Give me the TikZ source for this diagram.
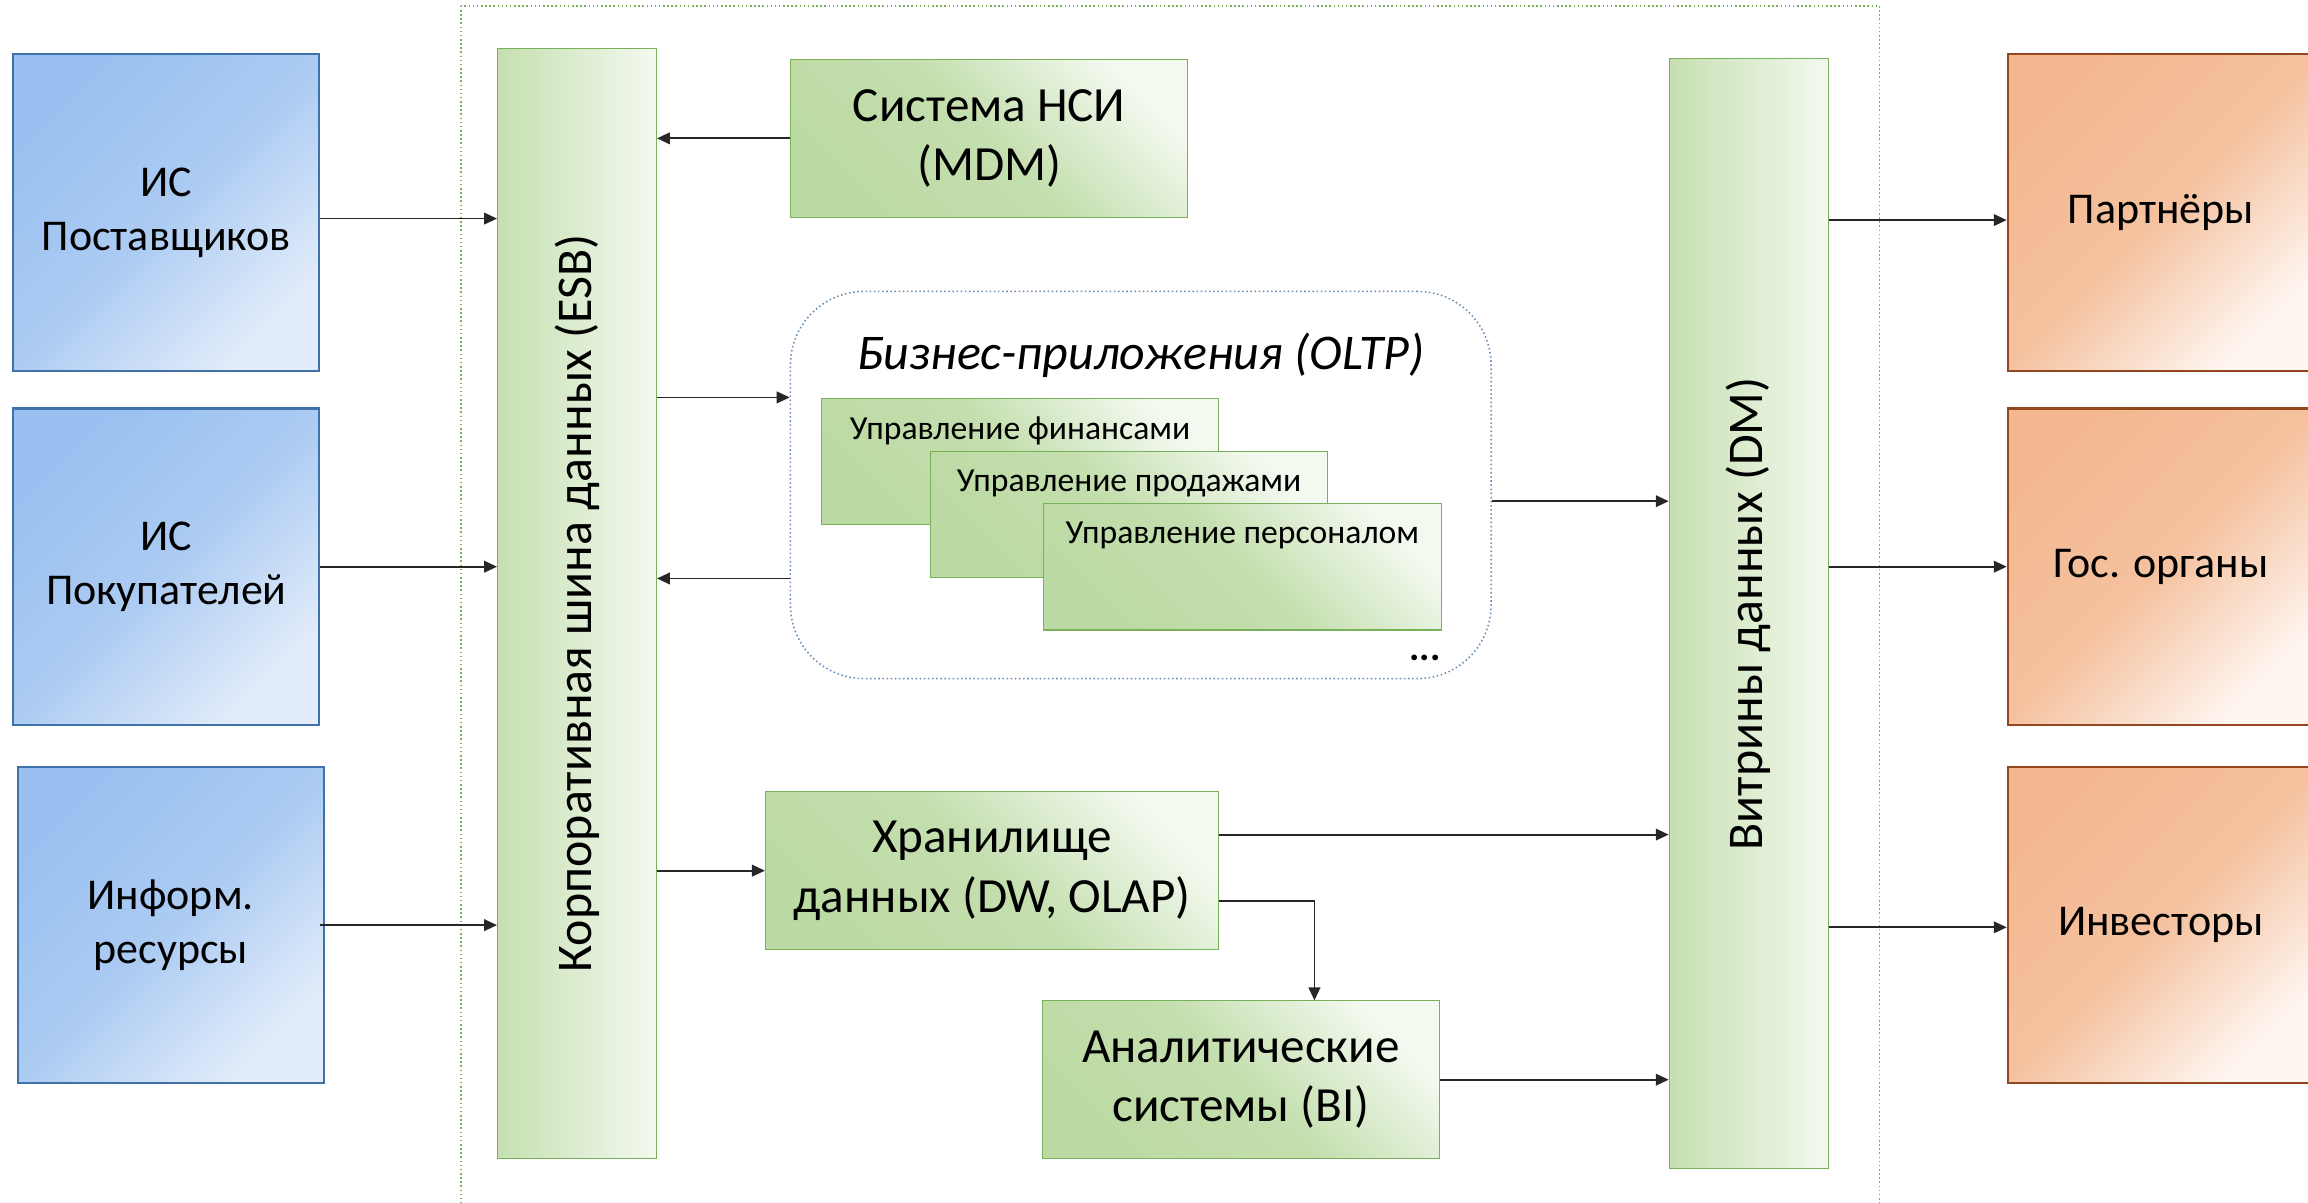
\documentclass[tikz,border=0pt]{standalone}
\usepackage{fontspec}
\setmainfont{Carlito}
\usetikzlibrary{arrows.meta,positioning}

\definecolor{srcdark}{HTML}{99C0F0}
\definecolor{srclight}{HTML}{E2ECFA}
\definecolor{srcline}{HTML}{3F72A8}
\definecolor{dstdark}{HTML}{F3B890}
\definecolor{dstlight}{HTML}{FEF6F1}
\definecolor{dstline}{HTML}{94461C}
\definecolor{grmid}{HTML}{BCDAA3}
\definecolor{grlight}{HTML}{F3F9EF}
\definecolor{grline}{HTML}{78B159}
\definecolor{oltpline}{HTML}{6A8DB8}

\tikzset{
    ext/.style={minimum width=4.16cm, minimum height=4.3cm, align=center,
        font=\fontsize{17}{21}\selectfont},
    src/.style={ext, draw=srcline, line width=0.8pt, top color=srcdark, bottom color=srclight,
        middle color=srcdark!75!srclight, shading angle=45},
    dst/.style={ext, draw=dstline, line width=0.8pt, top color=dstdark, bottom color=dstlight,
        middle color=dstdark!85!dstlight, shading angle=45},
    bar/.style={draw=grline, left color=grmid!85!white, middle color=grmid, right color=grlight,
        minimum width=2.16cm, minimum height=15.08cm},
    bartext/.style={rotate=90, font=\fontsize{19.3}{23}\selectfont},
    sys/.style={draw=grline, top color=grlight, bottom color=grmid, middle color=grmid!88!white,
        shading angle=-45, minimum width=5.4cm, minimum height=2.14cm, align=center,
        font=\fontsize{19}{23}\selectfont},
    app/.style={draw=grline, top color=grlight, bottom color=grmid, middle color=grmid!88!white,
        shading angle=-45, minimum width=5.4cm, minimum height=1.72cm},
    apptext/.style={anchor=north, yshift=-0.14cm, font=\fontsize{13}{15}\selectfont},
    arr/.style={-{Triangle[length=5pt,width=4.5pt]}, line width=0.7pt, black!85}
}

\begin{document}
\begin{tikzpicture}
    \useasboundingbox (0,0) rectangle (31.36,-16.34);
    \clip (0,0) rectangle (31.36,-16.34);

    % outer frame
    \draw[grline, densely dotted, line width=0.6pt] (6.26,-0.08) rectangle (25.54,-16.6);

    % sources
    \node[src] (supp) at (2.26,-2.89) {ИС\\Поставщиков};
    \node[src] (cust) at (2.26,-7.70) {ИС\\Покупателей};
    \node[src] (info) at (2.32,-12.57) {Информ.\\ресурсы};

    % bus and marts
    \node[bar] (esb) at (7.84,-8.20) {};
    \node[bartext] at (esb) {Корпоративная шина данных (ESB)};
    \node[bar] (dm) at (23.76,-8.34) {};
    \node[bartext] at (dm) {Витрины данных (DM)};

    % systems
    \node[sys] (mdm) at (13.44,-1.88) {Система НСИ\\(MDM)};
    \node[draw=oltpline, densely dotted, line width=0.6pt, rounded corners=1cm, minimum width=9.52cm,
        minimum height=5.26cm,
        label={[anchor=north, yshift=-0.45cm, font=\itshape\fontsize{19.3}{23}\selectfont]north:Бизнес-приложения (OLTP)}]
        (oltp) at (15.50,-6.59) {};
    \node[app, label={[apptext]north:Управление финансами}] (fin) at (13.86,-6.27) {};
    \node[app, label={[apptext]north:Управление продажами}] (sales) at (15.34,-6.99) {};
    \node[app, label={[apptext]north:Управление персоналом}] (staff) at (16.88,-7.70) {};
    \node[font=\bfseries\fontsize{15}{17}\selectfont] (more) at (19.36,-8.94) {...};
    \node[sys, minimum width=6.16cm] (dw) at (13.48,-11.83) {Хранилище\\данных (DW, OLAP)};
    \node[sys] (bi) at (16.86,-14.67) {Аналитические\\системы (BI)};

    % consumers
    \node[dst] (part) at (29.36,-2.89) {Партнёры};
    \node[dst] (gov) at (29.36,-7.70) {Гос. органы};
    \node[dst] (inv) at (29.36,-12.57) {Инвесторы};

    % connections
    \draw[arr] ([yshift=-0.08cm]supp.east) -- ([yshift=-0.08cm]supp.east -| esb.west);
    \draw[arr] (cust.east) -- (cust.east -| esb.west);
    \draw[arr] ([xshift=-0.06cm]info.east) -- (info.east -| esb.west);
    \draw[arr] (mdm.west) -- (mdm.west -| esb.east);
    \draw[arr] ([yshift=1.19cm]oltp.west -| esb.east) -- ([yshift=1.19cm]oltp.west);
    \draw[arr] ([yshift=-1.27cm]oltp.west) -- ([yshift=-1.27cm]oltp.west -| esb.east);
    \draw[arr] (dw.west -| esb.east) -- (dw.west);
    \draw[arr] ([yshift=-0.22cm]oltp.east) -- ([yshift=-0.22cm]oltp.east -| dm.west);
    \draw[arr] ([yshift=0.49cm]dw.east) -- ([yshift=0.49cm]dw.east -| dm.west);
    \draw[arr] ([yshift=-0.41cm]dw.east) -| ([xshift=1cm]bi.north);
    \draw[arr] (bi.east) -- (bi.east -| dm.west);
    \draw[arr] ([yshift=-0.1cm]part.west -| dm.east) -- ([yshift=-0.1cm]part.west);
    \draw[arr] (gov.west -| dm.east) -- (gov.west);
    \draw[arr] ([yshift=-0.03cm]inv.west -| dm.east) -- ([yshift=-0.03cm]inv.west);
\end{tikzpicture}
\end{document}
